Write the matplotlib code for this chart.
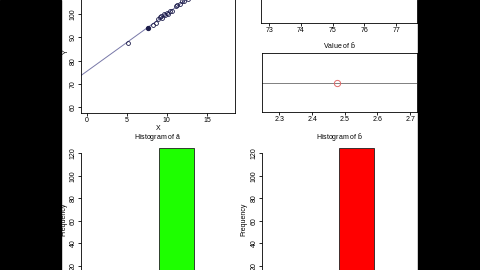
import numpy as np
import matplotlib
matplotlib.use('Agg')
import matplotlib.pyplot as plt
import matplotlib.patches as mpatches

plt.rcParams['font.family'] = ['Liberation Sans', 'DejaVu Sans']
plt.rcParams['mathtext.fontset'] = 'custom'
plt.rcParams['mathtext.rm'] = 'Liberation Sans'
plt.rcParams['font.size'] = 5

x_obs = [5.2, 7.6, 8.3, 8.6, 8.9, 9.1, 9.3, 9.4, 9.6, 9.8, 10.0,
         10.2, 10.4, 10.7, 11.1, 11.3, 11.6, 11.9, 12.2, 12.6, 13.1]
y_obs = [87.6, 94.0, 95.4, 96.2, 97.8, 98.7, 99.3, 98.2, 100.0, 99.4, 100.6,
         99.9, 101.4, 101.3, 103.5, 104.0, 104.3, 105.4, 105.5, 106.4, 107.6]
filled = [False, True] + [False] * 19

# fitted line
a_hat = 75.4
b_hat = 2.476

# histogram bins / counts
a_edges = [75.2, 75.6]
a_counts = [125]
b_edges = [2.46, 2.48]
b_counts = [125]

W, H = 480, 270


def px_axes(fig, left, right, top, bottom):
    # pixel box -> figure coords
    return fig.add_axes([left / W, 1 - bottom / H, (right - left) / W, (bottom - top) / H])


def r_style(ax, box=True):
    for s in ax.spines.values():
        s.set_linewidth(0.6)
        s.set_visible(box)
    ax.tick_params(direction='out', length=2.2, width=0.6, pad=0.8, labelsize=5)


fig = plt.figure(figsize=(4.8, 2.7), dpi=100)
fig.patch.set_facecolor('white')

# black video borders
fig.patches.append(mpatches.Rectangle((0, 0), 61.5 / W, 1, transform=fig.transFigure,
                                      color='black', zorder=10))
fig.patches.append(mpatches.Rectangle((418 / W, 0), 62 / W, 1, transform=fig.transFigure,
                                      color='black', zorder=10))

# --- scatter with fitted line ---
ax1 = px_axes(fig, 81, 235, -9.3, 113)
r_style(ax1)
ax1.set_xlim(-0.7, 18.5)
ax1.set_ylim(57.6, 110)
xl = np.array(ax1.get_xlim())
ax1.plot(xl, a_hat + b_hat * xl, color='#7878a8', lw=0.7)
xo = np.array(x_obs)
yo = np.array(y_obs)
fm = np.array(filled)
ax1.plot(xo[~fm], yo[~fm], 'o', mfc='none', mec='#1c1c4a', ms=2.8, mew=0.6)
ax1.plot(xo[fm], yo[fm], 'o', color='#1c1c4a', ms=2.8)
ax1.set_xticks([0, 5, 10, 15])
ax1.set_yticks([60, 70, 80, 90, 100])
for t in ax1.get_yticklabels():
    t.set_rotation(90)
    t.set_va('center')
ax1.set_xlabel('X')
ax1.xaxis.set_label_coords(0.5, -0.128)
ax1.xaxis.label.set_va('center')
ax1.set_ylabel('Y')
ax1.yaxis.set_label_coords(-0.093, 0.5)
ax1.yaxis.label.set_va('center')

# --- value of a-hat ---
ax2 = px_axes(fig, 261, 416.7, -35.7, 23.3)
r_style(ax2)
ax2.set_xlim(72.74, 77.65)
ax2.set_ylim(0, 2)
ax2.axhline(1, color='#808080', lw=0.7)
ax2.plot([a_hat], [1], 'o', mfc='none', mec='#e06a6a', ms=4.5, mew=0.7)
ax2.set_xticks([73, 74, 75, 76, 77])
ax2.set_yticks([])
ax2.set_title(r'Value of $\hat{\mathrm{a}}$', fontsize=5, pad=2)

# --- value of b-hat ---
ax3 = px_axes(fig, 261.7, 416.7, 53.3, 112.3)
r_style(ax3)
ax3.set_xlim(2.246, 2.72)
ax3.set_ylim(0, 2)
ax3.axhline(1, color='#808080', lw=0.7)
ax3.plot([b_hat], [1], 'o', mfc='none', mec='#e06a6a', ms=4.5, mew=0.7)
ax3.set_xticks([2.3, 2.4, 2.5, 2.6, 2.7])
ax3.set_yticks([])
ax3.set_title(r'Value of $\hat{\mathrm{b}}$', fontsize=5, pad=3)

# --- histograms ---
def hist_panel(left, right, edges, counts, color, title, xlim):
    ax = px_axes(fig, left, right, 144.5, 294)
    r_style(ax, box=False)
    ax.spines['left'].set_visible(True)
    ax.spines['left'].set_bounds(0, 120)
    ax.spines['bottom'].set_visible(True)
    ax.set_xlim(*xlim)
    ax.set_ylim(-5, 127.8)
    ax.bar(edges[0], counts[0], width=edges[1] - edges[0], align='edge',
           color=color, edgecolor='#202020', linewidth=0.6)
    ax.set_yticks([0, 20, 40, 60, 80, 100, 120])
    for t in ax.get_yticklabels():
        t.set_rotation(90)
        t.set_va('center')
    ax.set_ylabel('Frequency')
    ax.yaxis.set_label_coords(-0.112, 0.5)
    ax.yaxis.label.set_va('center')
    ax.set_title(title, fontsize=5, pad=0.2)
    return ax


hist_panel(81, 235, a_edges, a_counts, '#1eff00', r'Histogram of $\hat{\mathrm{a}}$',
           (74.317, 76.06))
hist_panel(261.7, 416.7, b_edges, b_counts, '#ff0000', r'Histogram of $\hat{\mathrm{b}}$',
           (2.4162, 2.504))

fig.savefig('out.png', dpi=100)
